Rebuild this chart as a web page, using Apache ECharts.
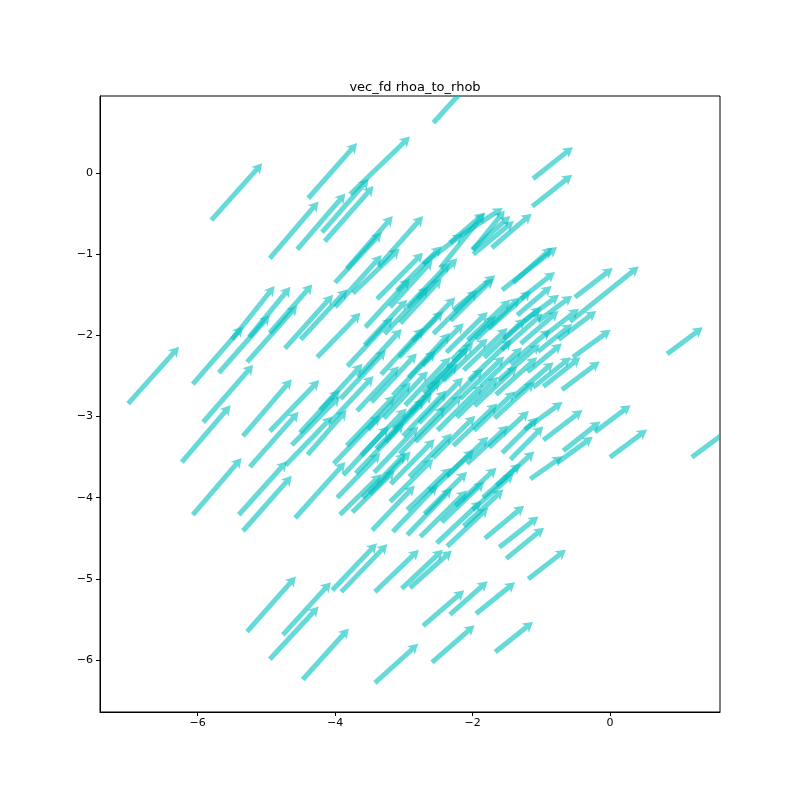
<!DOCTYPE html>
<html>
<head>
<meta charset="utf-8">
<title>vec_fd rhoa_to_rhob</title>
<script src="https://cdn.jsdelivr.net/npm/echarts@6/dist/echarts.min.js"></script>
<style>
  html, body { margin: 0; padding: 0; background: #fff; }
  #chart { width: 800px; height: 800px; }
</style>
</head>
<body>
<div id="chart"></div>
<script>
// each arrow: [x tail, y tail, u, v]
const outerLeft = [
  [-7.01, -2.84, 0.74, 0.70], [-5.80, -0.58, 0.74, 0.70], [-4.95, -1.05, 0.71, 0.70],
  [-6.07, -2.60, 0.73, 0.71], [-5.69, -2.46, 0.74, 0.71], [-5.28, -2.33, 0.73, 0.70],
  [-5.50, -2.05, 0.62, 0.66], [-5.25, -2.02, 0.60, 0.62], [-4.95, -1.97, 0.62, 0.60],
  [-4.73, -2.16, 0.70, 0.66], [-5.92, -3.07, 0.73, 0.71], [-5.34, -3.24, 0.71, 0.70],
  [-4.95, -3.18, 0.72, 0.63], [-4.63, -3.35, 0.70, 0.60], [-4.72, -3.60, 0.68, 0.60],
  [-6.23, -3.56, 0.71, 0.70], [-5.24, -3.62, 0.71, 0.68], [-6.07, -4.21, 0.71, 0.70],
  [-5.40, -4.21, 0.70, 0.66], [-5.34, -4.41, 0.71, 0.68], [-4.58, -4.25, 0.73, 0.69]
];

const upper = [
  [-2.57, 0.62, 0.75, 0.70], [-4.39, -0.31, 0.71, 0.68], [-3.78, -0.26, 0.87, 0.71],
  [-4.55, -0.94, 0.70, 0.69], [-4.15, -0.84, 0.71, 0.68], [-4.19, -0.73, 0.68, 0.66],
  [-3.83, -1.18, 0.67, 0.65], [-3.37, -1.15, 0.65, 0.62], [-4.00, -1.35, 0.68, 0.62],
  [-3.74, -1.48, 0.68, 0.55], [-3.39, -1.55, 0.67, 0.57], [-4.00, -1.65, 0.68, 0.64],
  [-1.12, -0.07, 0.58, 0.39], [-1.13, -0.41, 0.58, 0.39], [-2.47, -1.17, 0.65, 0.68],
  [-2.72, -1.12, 0.58, 0.37], [-2.19, -0.78, 0.63, 0.35], [-2.00, -0.94, 0.55, 0.41],
  [-2.33, -0.86, 0.51, 0.37], [-1.72, -0.92, 0.58, 0.42], [-1.99, -1.00, 0.59, 0.41],
  [-2.00, -0.95, 0.47, 0.49], [-1.57, -1.44, 0.80, 0.53], [-2.28, -1.69, 0.61, 0.43],
  [-3.10, -1.45, 0.65, 0.55], [-3.20, -1.65, 0.62, 0.58], [-2.95, -1.65, 0.62, 0.55],
  [-3.05, -1.85, 0.60, 0.55], [-2.80, -1.55, 0.58, 0.50], [-1.41, -1.35, 0.57, 0.43],
  [-4.50, -2.05, 0.68, 0.62], [-3.56, -1.90, 0.65, 0.60]
];

const rightSide = [
  [-0.51, -1.53, 0.55, 0.36], [-0.58, -1.83, 1.00, 0.68], [-1.25, -1.82, 0.51, 0.32],
  [-1.04, -1.82, 0.49, 0.31], [-1.35, -1.75, 0.50, 0.36], [-0.54, -2.27, 0.55, 0.34],
  [-1.12, -2.64, 0.55, 0.37], [-0.97, -2.63, 0.54, 0.36], [-0.70, -2.67, 0.55, 0.35],
  [-1.24, -3.16, 0.55, 0.34], [-0.97, -3.29, 0.57, 0.37], [-0.68, -3.42, 0.54, 0.36],
  [-0.22, -3.19, 0.52, 0.33], [0.00, -3.50, 0.54, 0.34], [0.83, -2.23, 0.52, 0.33],
  [1.19, -3.50, 0.56, 0.35], [-0.77, -3.57, 0.52, 0.32], [-1.16, -3.77, 0.47, 0.28],
  [-1.45, -2.35, 0.58, 0.42], [-1.30, -2.10, 0.55, 0.40], [-1.55, -2.05, 0.55, 0.40],
  [-1.05, -2.20, 0.50, 0.34], [-1.62, -2.55, 0.60, 0.44], [-1.40, -2.75, 0.58, 0.42],
  [-1.20, -2.45, 0.50, 0.35], [-1.30, -1.55, 0.50, 0.33], [-0.95, -2.00, 0.50, 0.33],
  [-0.75, -2.05, 0.55, 0.35], [-1.57, -3.45, 0.52, 0.44], [-1.45, -3.53, 0.48, 0.41]
];

const bottom = [
  [-5.28, -5.65, 0.71, 0.68], [-4.76, -5.69, 0.70, 0.65], [-4.95, -5.99, 0.71, 0.65],
  [-4.47, -6.24, 0.67, 0.63], [-4.04, -5.14, 0.65, 0.58], [-3.91, -5.16, 0.67, 0.59],
  [-3.42, -5.16, 0.64, 0.52], [-3.03, -5.12, 0.60, 0.48], [-2.91, -5.11, 0.61, 0.46],
  [-2.72, -5.58, 0.60, 0.44], [-3.42, -6.28, 0.63, 0.48], [-2.59, -6.03, 0.62, 0.46],
  [-2.33, -5.44, 0.55, 0.41], [-1.95, -5.43, 0.57, 0.39], [-1.67, -5.90, 0.55, 0.37],
  [-1.82, -4.50, 0.57, 0.40], [-1.61, -4.61, 0.57, 0.38], [-1.51, -4.75, 0.55, 0.38],
  [-1.19, -5.00, 0.55, 0.36]
];

const lowerCore = [
  [-3.46, -4.40, 0.62, 0.55], [-3.16, -4.42, 0.65, 0.58], [-2.95, -4.46, 0.65, 0.58],
  [-2.76, -4.48, 0.68, 0.57], [-2.52, -4.56, 0.65, 0.52], [-2.37, -4.60, 0.60, 0.48],
  [-3.93, -4.21, 0.60, 0.50], [-3.75, -4.18, 0.62, 0.52], [-3.60, -4.00, 0.63, 0.55],
  [-2.13, -4.35, 0.58, 0.45], [-2.00, -4.15, 0.60, 0.45], [-2.25, -4.10, 0.60, 0.47],
  [-1.85, -4.00, 0.55, 0.42], [-2.45, -4.30, 0.62, 0.50], [-2.70, -4.20, 0.62, 0.52],
  [-2.95, -4.15, 0.64, 0.52], [-3.20, -4.05, 0.63, 0.53], [-1.65, -3.85, 0.55, 0.42],
  [-3.50, -3.95, 0.60, 0.52]
];

const core = [
  [-4.26, -2.27, 0.63, 0.55], [-4.51, -3.20, 0.58, 0.53], [-4.40, -3.47, 0.57, 0.55],
  [-4.02, -3.58, 0.68, 0.60], [-3.97, -4.00, 0.63, 0.55], [-3.88, -3.72, 0.66, 0.60],
  [-3.68, -2.93, 0.61, 0.55], [-3.83, -3.36, 0.70, 0.62], [-3.62, -3.48, 0.66, 0.58],
  [-3.52, -3.16, 0.62, 0.58], [-3.47, -2.82, 0.66, 0.60], [-3.43, -3.69, 0.64, 0.57],
  [-3.27, -3.31, 0.68, 0.60], [-3.29, -3.02, 0.64, 0.58], [-3.16, -2.74, 0.62, 0.55],
  [-3.19, -3.83, 0.64, 0.55], [-3.06, -3.46, 0.66, 0.58], [-3.01, -3.24, 0.63, 0.56],
  [-2.98, -2.86, 0.66, 0.59], [-2.93, -2.52, 0.60, 0.55], [-2.92, -3.74, 0.62, 0.53],
  [-2.83, -3.31, 0.67, 0.57], [-2.78, -3.08, 0.64, 0.56], [-2.71, -2.71, 0.65, 0.56],
  [-2.73, -2.37, 0.60, 0.52], [-2.62, -3.93, 0.64, 0.52], [-2.58, -3.51, 0.62, 0.52],
  [-2.51, -3.17, 0.66, 0.56], [-2.47, -2.93, 0.62, 0.52], [-2.43, -2.56, 0.65, 0.52],
  [-2.38, -2.21, 0.60, 0.50], [-2.37, -3.73, 0.60, 0.48], [-2.28, -3.36, 0.64, 0.52],
  [-2.23, -3.01, 0.60, 0.50], [-2.18, -2.78, 0.64, 0.52], [-2.13, -2.43, 0.64, 0.52],
  [-2.07, -2.06, 0.62, 0.50], [-2.08, -3.58, 0.60, 0.47], [-1.98, -3.17, 0.60, 0.48],
  [-1.97, -2.87, 0.62, 0.49], [-1.88, -2.63, 0.60, 0.48], [-1.83, -2.27, 0.60, 0.48],
  [-1.77, -1.92, 0.62, 0.47], [-1.76, -3.38, 0.58, 0.45], [-1.68, -3.02, 0.58, 0.45],
  [-1.66, -2.73, 0.60, 0.46], [-1.58, -2.18, 0.60, 0.45], [-3.67, -2.51, 0.64, 0.59],
  [-3.92, -2.78, 0.66, 0.60], [-4.08, -3.08, 0.64, 0.58], [-3.33, -2.48, 0.62, 0.57],
  [-3.07, -2.27, 0.64, 0.57], [-2.87, -2.07, 0.62, 0.54], [-2.57, -1.98, 0.64, 0.54],
  [-2.32, -1.82, 0.62, 0.52], [-3.57, -2.12, 0.62, 0.56], [-3.82, -2.38, 0.66, 0.60],
  [-3.28, -1.98, 0.64, 0.58], [-4.22, -2.92, 0.62, 0.57], [-3.40, -3.40, 0.70, 0.62],
  [-3.15, -3.15, 0.68, 0.60], [-2.90, -2.95, 0.68, 0.60], [-2.65, -2.65, 0.66, 0.56],
  [-2.30, -2.30, 0.64, 0.54], [-1.95, -2.05, 0.64, 0.52], [-3.70, -3.70, 0.70, 0.62],
  [-2.05, -2.55, 0.62, 0.50]
];

const xTicks = [-6, -4, -2, 0];
const yTicks = [-6, -5, -4, -3, -2, -1, 0];

const arrows = [].concat(outerLeft, upper, rightSide, bottom, lowerCore, core);

const minus = v => String(v).replace('-', '\u2212');

function renderArrow(params, api) {
  const x = api.value(0), y = api.value(1);
  const p0 = api.coord([x, y]);
  const p1 = api.coord([x + api.value(2), y + api.value(3)]);
  const dx = p1[0] - p0[0], dy = p1[1] - p0[1];
  const len = Math.hypot(dx, dy) || 1;
  const ux = dx / len, uy = dy / len;
  const nx = -uy, ny = ux;
  const w = 2.5, hw = 5.8, hl = 10, ha = 8.5;
  const nk = [p1[0] - ux * ha, p1[1] - uy * ha];
  const bk = [p1[0] - ux * hl, p1[1] - uy * hl];
  return {
    type: 'polygon',
    shape: {
      points: [
        [p0[0] + nx * w, p0[1] + ny * w],
        [nk[0] + nx * w, nk[1] + ny * w],
        [bk[0] + nx * hw, bk[1] + ny * hw],
        p1,
        [bk[0] - nx * hw, bk[1] - ny * hw],
        [nk[0] - nx * w, nk[1] - ny * w],
        [p0[0] - nx * w, p0[1] - ny * w]
      ]
    },
    style: { fill: 'rgba(0,191,191,0.6)' }
  };
}

const chart = echarts.init(document.getElementById('chart'), null, { renderer: 'canvas' });

chart.setOption({
  animation: false,
  backgroundColor: '#fff',
  textStyle: { fontFamily: 'DejaVu Sans' },
  title: {
    text: 'vec_fd rhoa_to_rhob',
    left: 410,
    top: 76,
    textAlign: 'center',
    textStyle: { fontSize: 13, fontWeight: 'normal', color: '#000', fontFamily: 'DejaVu Sans' }
  },
  grid: {
    left: 100, right: 80, top: 96, bottom: 88,
    show: true, borderColor: '#000', borderWidth: 1, backgroundColor: 'transparent'
  },
  xAxis: {
    type: 'value',
    min: -7.42, max: 1.6,
    splitLine: { show: false },
    axisLine: { show: true, onZero: false, lineStyle: { color: '#000' } },
    axisTick: { show: true, length: 4, customValues: xTicks, lineStyle: { color: '#000' } },
    axisLabel: { customValues: xTicks, formatter: minus, color: '#000', fontSize: 11, margin: 6 }
  },
  yAxis: {
    type: 'value',
    min: -6.64, max: 0.95,
    splitLine: { show: false },
    axisLine: { show: true, onZero: false, lineStyle: { color: '#000' } },
    axisTick: { show: true, length: 4, customValues: yTicks, lineStyle: { color: '#000' } },
    axisLabel: { customValues: yTicks, formatter: minus, color: '#000', fontSize: 11, margin: 7 }
  },
  series: [{
    type: 'custom',
    renderItem: renderArrow,
    clip: true,
    encode: { x: [0, 2], y: [1, 3] },
    data: arrows
  }]
});
</script>
</body>
</html>
